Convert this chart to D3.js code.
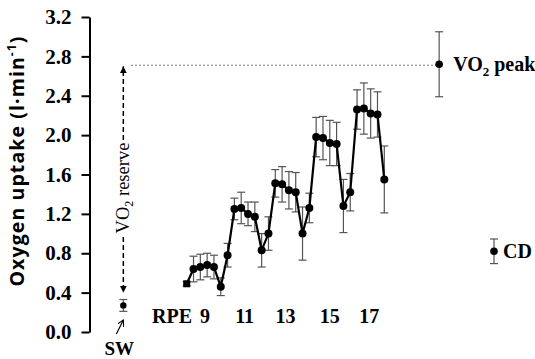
<!DOCTYPE html>
<html>
<head>
<meta charset="utf-8">
<script src="https://cdn.jsdelivr.net/npm/d3@7"></script>
<style>
body { margin: 0; background: #fff; }
svg { display: block; }
</style>
</head>
<body>
<svg></svg>
<script>
// exercise stages (category index along the x axis)
const stage = d3.range(30);
const vo2 = [0.49, 0.64, 0.66, 0.68, 0.66, 0.46, 0.78, 1.25, 1.26, 1.2, 1.17, 0.83, 1.0, 1.51, 1.5, 1.44, 1.42, 1.0, 1.26, 1.98, 1.97, 1.92, 1.91, 1.28, 1.42, 2.26, 2.27, 2.22, 2.21, 1.55];
const vo2Sd = [0.02, 0.13, 0.13, 0.12, 0.12, 0.09, 0.12, 0.11, 0.16, 0.12, 0.15, 0.17, 0.17, 0.14, 0.18, 0.19, 0.2, 0.27, 0.15, 0.2, 0.22, 0.23, 0.22, 0.27, 0.19, 0.2, 0.26, 0.25, 0.23, 0.34];

const rpeLabels = ["9", "11", "13", "15", "17"];
const rpePos = [2.7, 8.5, 14.5, 21, 26.8];

const refNames = ["SW", "VO2 peak", "CD"];
const refPos = [-9.3, 37.05, 45.1];
const refMean = [0.27, 2.72, 0.82];
const refSd = [0.06, 0.33, 0.125];

const yTicks = [0, 0.4, 0.8, 1.2, 1.6, 2.0, 2.4, 2.8, 3.2];

const svg = d3.select("svg");
svg.attr("width", 535).attr("height", 359);

const x = d3.scaleLinear().domain([0, 29]).range([186.7, 384.3]);
const y = d3.scaleLinear().domain([0, 3.2]).range([332, 17]);

const serif = "'Liberation Serif', 'Times New Roman', serif";

// y axis
const yAxis = d3
	.axisLeft(y)
	.tickValues(yTicks)
	.tickFormat(d3.format(".1f"))
	.tickSize(8)
	.tickSizeOuter(0)
	.tickPadding(10);

const axisG = svg.append("g").attr("transform", "translate(89.5, 0)").call(yAxis);
axisG.select(".domain").attr("stroke-width", 2);
axisG.selectAll(".tick line").attr("stroke-width", 2);
axisG
	.selectAll(".tick text")
	.attr("font-family", serif)
	.attr("font-weight", "bold")
	.attr("font-size", 21)
	.attr("fill", "#000");

const title = svg
	.append("text")
	.attr("transform", "translate(24, 161) rotate(-90)")
	.attr("text-anchor", "middle")
	.attr("font-family", "'Open Sans', 'Liberation Sans', sans-serif")
	.attr("font-weight", "bold")
	.attr("font-size", 19.5)
	.attr("letter-spacing", 1.1);
title.append("tspan").text("Oxygen uptake (l·min");
title.append("tspan").attr("font-size", 12).attr("baseline-shift", "super").text("-1");
title.append("tspan").text(")");

// dotted line from VO2 peak back to the reserve arrow
svg
	.append("line")
	.attr("x1", 131)
	.attr("x2", x(refPos[1]))
	.attr("y1", y(2.71))
	.attr("y2", y(2.71))
	.attr("stroke", "#777")
	.attr("stroke-width", 1)
	.attr("stroke-dasharray", "2,2");

// VO2 reserve arrow
const defs = svg.append("defs");
defs
	.append("marker")
	.attr("id", "head")
	.attr("viewBox", "0 0 10 10")
	.attr("refX", 10)
	.attr("refY", 5)
	.attr("markerWidth", 7)
	.attr("markerHeight", 7)
	.attr("markerUnits", "userSpaceOnUse")
	.attr("orient", "auto")
	.append("path")
	.attr("d", "M0,0L10,5L0,10Z")
	.attr("fill", "#000");

const arrowX = x(refPos[0]);
const reserveMid = 188;
svg
	.append("line")
	.attr("x1", arrowX)
	.attr("x2", arrowX)
	.attr("y1", reserveMid - 48)
	.attr("y2", y(2.7))
	.attr("stroke", "#000")
	.attr("stroke-width", 1.5)
	.attr("stroke-dasharray", "5,3")
	.attr("marker-end", "url(#head)");
svg
	.append("line")
	.attr("x1", arrowX)
	.attr("x2", arrowX)
	.attr("y1", reserveMid + 49)
	.attr("y2", y(0.4))
	.attr("stroke", "#000")
	.attr("stroke-width", 1.5)
	.attr("stroke-dasharray", "5,3")
	.attr("marker-end", "url(#head)");

const reserve = svg
	.append("text")
	.attr("transform", `translate(${arrowX + 6}, ${reserveMid}) rotate(-90)`)
	.attr("text-anchor", "middle")
	.attr("font-family", serif)
	.attr("font-size", 18.5);
reserve.append("tspan").text("VO");
reserve.append("tspan").attr("font-size", 12).attr("dy", 4).text("2");
reserve.append("tspan").attr("dy", -4).text(" reserve");

// error bars for the exercise series
const errG = svg.append("g").attr("stroke", "#555").attr("stroke-width", 1.2);
stage.forEach((i) => {
	const cx = x(i);
	const top = y(vo2[i] + vo2Sd[i]);
	const bot = y(vo2[i] - vo2Sd[i]);
	errG.append("line").attr("x1", cx).attr("x2", cx).attr("y1", top).attr("y2", bot);
	errG.append("line").attr("x1", cx - 4).attr("x2", cx + 4).attr("y1", top).attr("y2", top);
	errG.append("line").attr("x1", cx - 4).attr("x2", cx + 4).attr("y1", bot).attr("y2", bot);
});

const line = d3
	.line()
	.x((d) => x(d))
	.y((d) => y(vo2[d]));

svg
	.append("path")
	.attr("d", line(stage))
	.attr("fill", "none")
	.attr("stroke", "#000")
	.attr("stroke-width", 2.2);

svg
	.append("rect")
	.attr("x", x(0) - 3.5)
	.attr("y", y(vo2[0]) - 3.5)
	.attr("width", 7)
	.attr("height", 7)
	.attr("fill", "#000");

svg
	.selectAll("circle.pt")
	.data(stage.slice(1))
	.enter()
	.append("circle")
	.attr("class", "pt")
	.attr("cx", (d) => x(d))
	.attr("cy", (d) => y(vo2[d]))
	.attr("r", 4)
	.attr("fill", "#000");

// reference points: SW, VO2 peak, CD
refNames.forEach((name, i) => {
	const cx = x(refPos[i]);
	const top = y(refMean[i] + refSd[i]);
	const bot = y(refMean[i] - refSd[i]);
	const g = svg.append("g").attr("stroke", "#555").attr("stroke-width", 1.2);
	g.append("line").attr("x1", cx).attr("x2", cx).attr("y1", top).attr("y2", bot);
	g.append("line").attr("x1", cx - 4).attr("x2", cx + 4).attr("y1", top).attr("y2", top);
	g.append("line").attr("x1", cx - 4).attr("x2", cx + 4).attr("y1", bot).attr("y2", bot);
	svg.append("circle").attr("cx", cx).attr("cy", y(refMean[i])).attr("r", i === 0 ? 3.2 : 3.8).attr("fill", "#000");
});

const labelFont = (sel) =>
	sel.attr("font-family", serif).attr("font-weight", "bold").attr("font-size", 20).attr("fill", "#000");

const peakLabel = svg.append("text").attr("x", x(refPos[1]) + 14).attr("y", 71).call(labelFont);
peakLabel.append("tspan").text("VO");
peakLabel.append("tspan").attr("font-size", 13).attr("dy", 5).text("2");
peakLabel.append("tspan").attr("dy", -5).text(" peak");

svg.append("text").attr("x", x(refPos[2]) + 9).attr("y", 258).text("CD").call(labelFont);

svg
	.append("text")
	.attr("x", arrowX - 4)
	.attr("y", 355)
	.attr("text-anchor", "middle")
	.text("SW")
	.call(labelFont)
	.attr("font-size", 19);

// thin arrow from SW label up to its point
svg
	.append("marker")
	.attr("id", "open")
	.attr("viewBox", "0 0 10 10")
	.attr("refX", 9)
	.attr("refY", 5)
	.attr("markerWidth", 7)
	.attr("markerHeight", 7)
	.attr("markerUnits", "userSpaceOnUse")
	.attr("orient", "auto")
	.append("path")
	.attr("d", "M0,0L9,5L0,10")
	.attr("fill", "none")
	.attr("stroke", "#000")
	.attr("stroke-width", 1.5);
svg
	.append("line")
	.attr("x1", arrowX - 7)
	.attr("y1", 334)
	.attr("x2", arrowX)
	.attr("y2", 320)
	.attr("stroke", "#000")
	.attr("stroke-width", 1.2)
	.attr("marker-end", "url(#open)");

// RPE labels
svg.append("text").attr("x", 152).attr("y", 323).text("RPE").call(labelFont);
svg
	.selectAll("text.rpe")
	.data(rpeLabels)
	.enter()
	.append("text")
	.attr("class", "rpe")
	.attr("x", (d, i) => x(rpePos[i]))
	.attr("y", 323)
	.attr("text-anchor", "middle")
	.text((d) => d)
	.call(labelFont);
</script>
</body>
</html>
